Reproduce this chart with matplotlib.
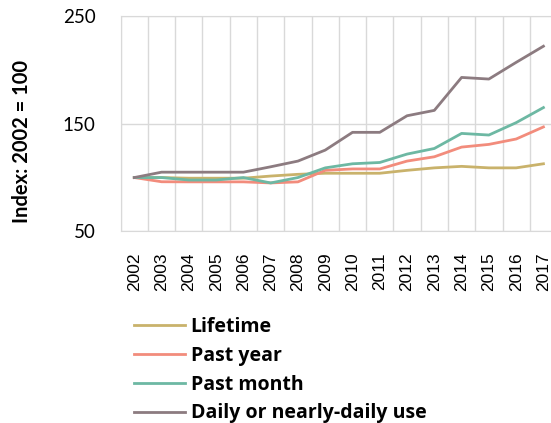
import numpy as np
import matplotlib.pyplot as plt

years = [str(y) for y in range(2002, 2018)]
lifetime = [100, 100, 99.4, 99.4, 99.4, 101.4, 103, 104, 104, 104, 106.7, 109, 110.4, 109, 109, 112.8]
past_year = [100, 96.1, 96, 96, 96, 95, 96, 106.7, 108, 108, 115.3, 119.3, 128.3, 130.8, 135.8, 147]
past_month = [100, 100, 97.7, 97.7, 100, 95, 100, 109, 112.8, 114, 121.8, 127, 141, 139.5, 151, 165]
daily = [100, 105, 105, 105, 105, 110, 115.3, 125.5, 142, 142, 157.4, 162.4, 193, 191.5, 207, 222]

series = [
    ("Lifetime", lifetime, "#C9B26B"),
    ("Past year", past_year, "#F28C7C"),
    ("Past month", past_month, "#6DB8A3"),
    ("Daily or nearly-daily use", daily, "#8C7B80"),
]

fig = plt.figure(figsize=(5.51, 4.23), dpi=100)
# axes runs a little past the right edge of the figure, as in the original
ax = fig.add_axes([0.219, 0.453, 0.792, 0.509])

x = np.arange(len(years))
for name, vals, col in series:
    ax.plot(x, vals, color=col, lw=2.0, label=name, solid_joinstyle="round")

ax.set_xlim(-0.5, len(years) - 0.5)
ax.set_ylim(50, 250)
ax.set_yticks([50, 150, 250])
ax.set_yticklabels(["50", "150", "250"], fontsize=13.5, family="Lato")
ax.set_xticks(x)
ax.set_xticklabels(years, rotation=90, fontsize=12.5, family="Liberation Sans")
ax.set_xticks(np.arange(-0.5, len(years)), minor=True)
ax.grid(True, which="minor", axis="x", color="#D9D9D9", lw=1)
ax.grid(True, which="major", axis="y", color="#D9D9D9", lw=1)
ax.set_axisbelow(True)
ax.tick_params(which="both", length=0)
ax.tick_params(axis="y", pad=18)
ax.tick_params(axis="x", pad=15)
for s in ax.spines.values():
    s.set_color("#D9D9D9")

fig.text(0.04, 0.665, "Index: 2002 = 100", rotation=90, fontsize=14.5, fontweight="bold",
         family="Lato", ha="center", va="center")

leg = fig.legend(loc="upper left", bbox_to_anchor=(0.226, 0.273), frameon=False,
                 prop={"family": "Open Sans", "weight": "bold", "size": 14},
                 handlelength=2.6, handletextpad=0.3, labelspacing=0.45, borderpad=0)

fig.savefig("out.png", dpi=100)
